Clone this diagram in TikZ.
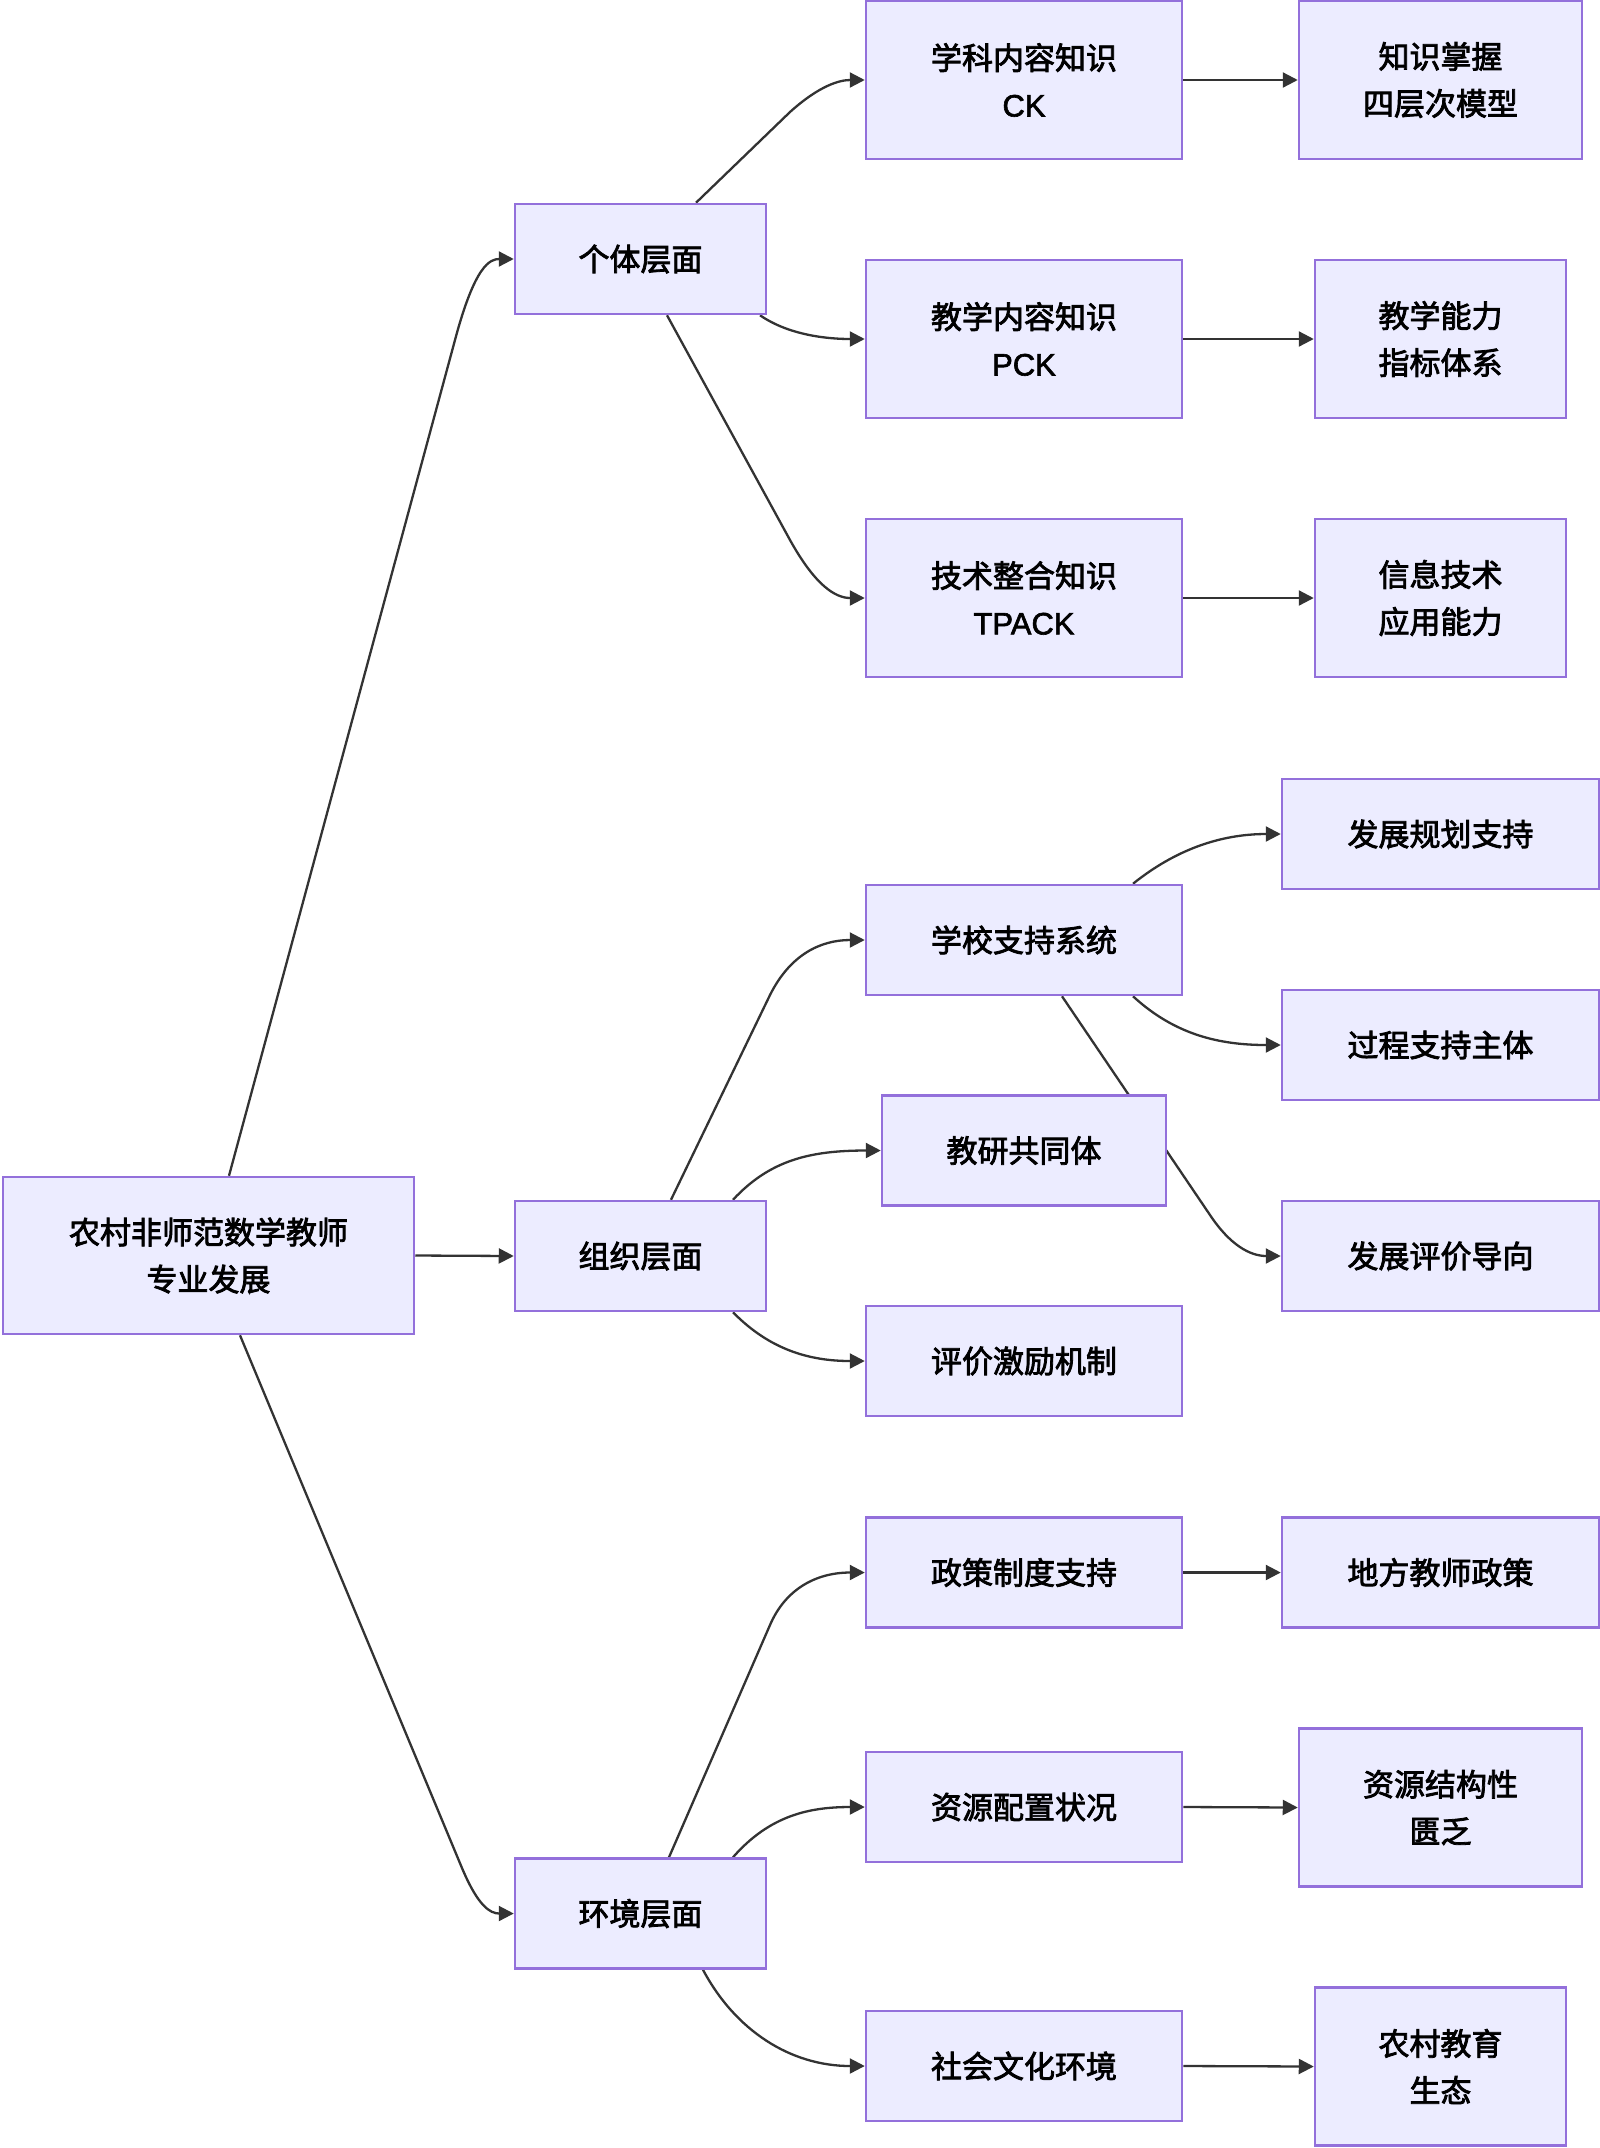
\documentclass[tikz,border=0pt]{standalone}
\usepackage{fontspec}
\newfontfamily\cjk[RawFeature={embolden=2.5}]{Noto Sans CJK SC}
\newfontfamily\lat[RawFeature={embolden=2}]{Liberation Sans}
\usetikzlibrary{arrows.meta,backgrounds}
\definecolor{mmfill}{HTML}{ECECFF}
\definecolor{mmborder}{HTML}{9370DB}
\definecolor{mmline}{HTML}{333333}
\tikzset{
  box/.style={draw=mmborder, fill=mmfill, line width=2.5pt, inner sep=0pt, align=center,
    font=\cjk\fontsize{31}{47}\selectfont},
  conn/.style={draw=mmline, line width=2.3pt, -{Triangle[length=15pt,width=15pt]}},
}
\begin{document}
\begin{tikzpicture}[x=1pt,y=-1pt]
\useasboundingbox (0,0) rectangle (1600,2148);
% nodes
\node[box, minimum width=411pt, minimum height=157pt] (root) at (208.5,1255.5) {农村非师范数学教师\\专业发展};
\node[box, minimum width=251pt, minimum height=110pt] (ind) at (640.5,259) {个体层面};
\node[box, minimum width=251pt, minimum height=110pt] (org) at (640.5,1256) {组织层面};
\node[box, minimum width=251pt, minimum height=110pt] (env) at (640.5,1913.5) {环境层面};
\node[box, minimum width=316pt, minimum height=158pt] (ck) at (1024,80) {学科内容知识\\{\lat CK}};
\node[box, minimum width=283pt, minimum height=158pt] (kn) at (1440.5,80) {知识掌握\\四层次模型};
\node[box, minimum width=316pt, minimum height=158pt] (pck) at (1024,339) {教学内容知识\\{\lat PCK}};
\node[box, minimum width=251pt, minimum height=158pt] (tn) at (1440.5,339) {教学能力\\指标体系};
\node[box, minimum width=316pt, minimum height=158pt] (tpack) at (1024,598) {技术整合知识\\{\lat TPACK}};
\node[box, minimum width=251pt, minimum height=158pt] (it) at (1440.5,598) {信息技术\\应用能力};
\node[box, minimum width=316pt, minimum height=110pt] (school) at (1024,940) {学校支持系统};
\node[box, minimum width=317pt, minimum height=110pt] (plan) at (1440.5,834) {发展规划支持};
\node[box, minimum width=317pt, minimum height=110pt] (proc) at (1440.5,1045) {过程支持主体};
\node[box, minimum width=284pt, minimum height=110pt] (comm) at (1024,1150.5) {教研共同体};
\node[box, minimum width=317pt, minimum height=110pt] (eval) at (1440.5,1256) {发展评价导向};
\node[box, minimum width=316pt, minimum height=110pt] (incent) at (1024,1361) {评价激励机制};
\node[box, minimum width=316pt, minimum height=110pt] (policy) at (1024,1572.5) {政策制度支持};
\node[box, minimum width=317pt, minimum height=110pt] (local) at (1440.5,1572.5) {地方教师政策};
\node[box, minimum width=316pt, minimum height=110pt] (res) at (1024,1807) {资源配置状况};
\node[box, minimum width=283pt, minimum height=158pt] (lack) at (1440.5,1807.5) {资源结构性\\匮乏};
\node[box, minimum width=316pt, minimum height=110pt] (soc) at (1024,2066) {社会文化环境};
\node[box, minimum width=251pt, minimum height=158pt] (eco) at (1440.5,2066.5) {农村教育\\生态};
% connectors
\begin{pgfonlayer}{background}
\draw[conn] ([xshift=20.5pt]root.north) -- (455,340) .. controls (475,265) and (490,259) .. (ind.west);
\draw[conn] (root.east) -- (org.west);
\draw[conn] ([xshift=31.5pt]root.south) -- (462,1868) .. controls (478,1906) and (490,1913.5) .. (env.west);
\draw[conn] ([xshift=55.5pt]ind.north) -- (790,112) .. controls (820,85) and (840,80) .. (ck.west);
\draw[conn] ([xshift=119.5pt]ind.south) .. controls (790,336) and (830,339) .. (pck.west);
\draw[conn] ([xshift=26.5pt]ind.south) -- (790,540) .. controls (815,585) and (835,598) .. (tpack.west);
\draw[conn] (ck.east) -- (kn.west);
\draw[conn] (pck.east) -- (tn.west);
\draw[conn] (tpack.east) -- (it.west);
\draw[conn] ([xshift=30.5pt]org.north) -- (770,995) .. controls (790,955) and (820,940) .. (school.west);
\draw[conn] ([xshift=92.5pt]org.north) .. controls (770,1160) and (810,1150.5) .. (comm.west);
\draw[conn] ([xshift=92.5pt]org.south) .. controls (770,1350) and (810,1361) .. (incent.west);
\draw[conn] ([xshift=109pt]school.north) .. controls (1175,850) and (1220,834) .. (plan.west);
\draw[conn] ([xshift=109pt]school.south) .. controls (1175,1035) and (1220,1045) .. (proc.west);
\draw[conn] ([xshift=38pt]school.south) -- (1210,1215) .. controls (1230,1245) and (1250,1256) .. (eval.west);
\draw[conn] ([xshift=28.5pt]env.north) -- (770,1625) .. controls (785,1590) and (815,1572.5) .. (policy.west);
\draw[conn] ([xshift=92.5pt]env.north) .. controls (770,1815) and (810,1807) .. (res.west);
\draw[conn] ([xshift=62.5pt]env.south) .. controls (735,2030) and (790,2066) .. (soc.west);
\draw[conn] (policy.east) -- (local.west);
\draw[conn] (res.east) -- (lack.west);
\draw[conn] (soc.east) -- (eco.west);
\end{pgfonlayer}
\end{tikzpicture}
\end{document}
